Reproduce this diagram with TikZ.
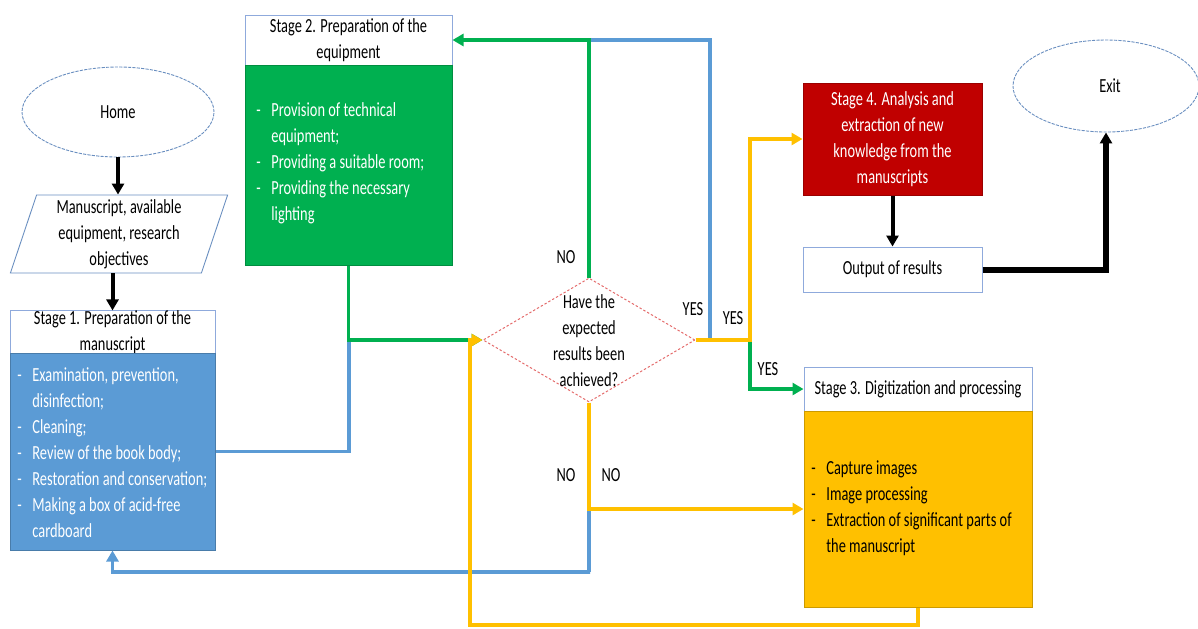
\documentclass[tikz,border=0pt]{standalone}
\usepackage{fontspec}
\setmainfont{Carlito}[FakeStretch=0.72]
\usepackage{xcolor}
\usepackage{tikz}
\usetikzlibrary{calc,arrows.meta,positioning,shapes.geometric}
\definecolor{stageblue}{HTML}{5B9BD5}
\definecolor{stagegreen}{HTML}{00B050}
\definecolor{stageyellow}{HTML}{FFC000}
\definecolor{stagered}{HTML}{C00000}
\definecolor{edgeblue}{HTML}{8FAADC}
\definecolor{lineblue}{HTML}{6A8FC0}
\definecolor{dashred}{HTML}{E46C6C}
\newcommand{\itemlist}[1]{\begin{tabular}[t]{@{}p{7.5pt}@{}l@{}}#1\end{tabular}}

\begin{document}
\begin{tikzpicture}[x=0.5pt, y=-0.5pt,
  every node/.style={font=\fontsize{10}{13}\selectfont, inner sep=0pt},
  head/.style={draw=edgeblue, fill=white, line width=0.5pt, align=center},
  body/.style={draw=#1!80!black, fill=#1, line width=0.5pt},
  terminal/.style={ellipse, draw=lineblue, dash pattern=on 1.6pt off 0.6pt, line width=0.45pt},
  flow/.style={line width=1.7pt, -{Triangle[length=5.5pt,width=6pt]}},
  link/.style={line width=1.7pt},
  bold/.style={line width=2pt, -{Triangle[length=5.5pt,width=6pt]}}]
\useasboundingbox (0,0) rectangle (1198,628);

% start and end
\node[terminal, minimum width=96pt, minimum height=45pt] (home) at (118,112) {Home};
\node[terminal, minimum width=93pt, minimum height=46pt] (exit) at (1106,86) {};
\node (exittxt) at (1110,86) {Exit};
\node[trapezium, trapezium left angle=74, trapezium right angle=106, trapezium stretches=true,
  draw=lineblue, line width=0.45pt, minimum width=109pt, minimum height=39pt, align=center]
  (inputs) at (119,234) {Manuscript, available\\equipment, research\\objectives};

% stage 1
\node[head, minimum width=102.5pt, minimum height=20.5pt] (s1head) at (112.5,332.5)
  {Stage 1. Preparation of the\\manuscript};
\node[body=stageblue, minimum width=102.5pt, minimum height=98.5pt] (s1body) at (112.5,451.5) {};
\node[anchor=base west, text=white] (s1list) at (17,381) {\itemlist{
  - & Examination, prevention,\\
    & disinfection;\\
  - & Cleaning;\\
  - & Review of the book body;\\
  - & Restoration and conservation;\\
  - & Making a box of acid-free\\
    & cardboard}};

% stage 2
\node[head, minimum width=103.5pt, minimum height=25pt] (s2head) at (348.5,40)
  {Stage 2. Preparation of the\\equipment};
\node[body=stagegreen, minimum width=103.5pt, minimum height=100pt] (s2body) at (348.5,165) {};
\node[anchor=base west, text=white] (s2list) at (256,116) {\itemlist{
  - & Provision of technical\\
    & equipment;\\
  - & Providing a suitable room;\\
  - & Providing the necessary\\
    & lighting}};

% stage 3
\node[head, minimum width=114pt, minimum height=22pt] (s3head) at (918,389)
  {Stage 3. Digitization and processing};
\node[body=stageyellow, minimum width=114pt, minimum height=98pt] (s3body) at (918,509) {};
\node[anchor=base west] (s3list) at (811,474) {\itemlist{
  - & Capture images\\
  - & Image processing\\
  - & Extraction of significant parts of\\
    & the manuscript}};

% stage 4 and output
\node[body=stagered, minimum width=89.5pt, minimum height=56pt, text=white, align=center] (s4) at (892.5,139)
  {Stage 4. Analysis and\\extraction of new\\knowledge from the\\manuscripts};
\node[head, minimum width=89.5pt, minimum height=22.5pt] (output) at (892.5,269.5) {Output of results};

% decision
\node[diamond, draw=dashred, dash pattern=on 1.2pt off 1pt, line width=0.5pt,
  minimum width=106pt, minimum height=62pt] (decide) at (589,340) {};
\node[align=center] (decidetxt) at (589,341) {Have the\\expected\\results been\\achieved?};

\coordinate (merge) at (349,340);
\coordinate (split) at (750,340);
\coordinate (loopbl) at (470,625);

% blue
\draw[link, stageblue] (s1body.east) -| (merge);
\draw[link, stageblue] (decide.east) -| (710,40) -- (decide.north |- s2head.east);
\draw[flow, stageblue] (decide.south) |- (590,572) -| (s1body.south);
% green
\draw[flow, stagegreen] (s2body.south) |- (decide.west);
\draw[flow, stagegreen] (decide.north) |- (s2head.east);
\draw[flow, stagegreen] (split) |- (s3head.west);
% yellow
\draw[flow, stageyellow] (decide.east) -- (split) |- (s4.west);
\draw[flow, stageyellow] (decide.south) |- (s3body.west);
\draw[flow, stageyellow] (s3body.south) |- (loopbl) |- (decide.west);
% black
\draw[bold] (home.south) -- (home.south |- inputs.north);
\draw[bold] (inputs.south -| s1head.north) -- (s1head.north);
\draw[bold] (s4.south) -- (output.north);
\draw[bold, line width=3pt] (output.east) -| (exit.south);

% labels
\node (no1) at (566,257) {NO};
\node (yes1) at (693,309) {YES};
\node (yes2) at (733,318) {YES};
\node (yes3) at (768,369) {YES};
\node (no2) at (566,475) {NO};
\node (no3) at (611,475) {NO};
\end{tikzpicture}
\end{document}
